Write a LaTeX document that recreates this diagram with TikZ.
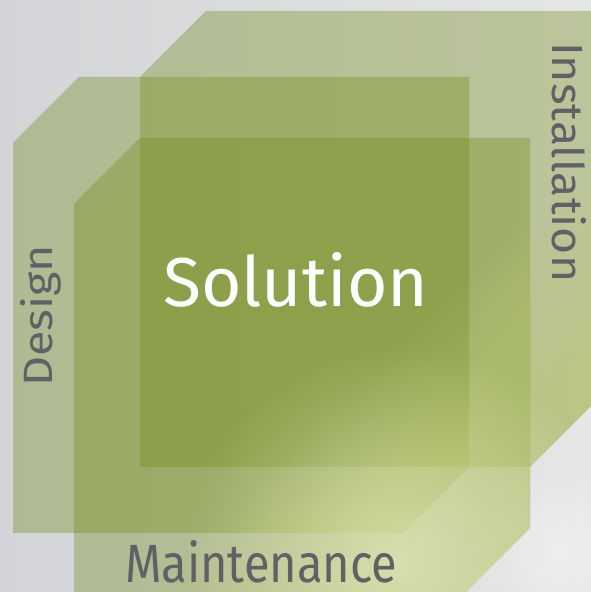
\documentclass[tikz,border=0pt]{standalone}
\usepackage{fontspec}
\setmainfont{Fira Sans}
\usetikzlibrary{fadings}
\definecolor{bgL}{RGB}{210,212,215}
\definecolor{bgR}{RGB}{229,230,230}
\definecolor{leaf}{RGB}{115,140,25}
\definecolor{labelgray}{RGB}{96,97,100}
\definecolor{glowc}{RGB}{242,246,208}
\definecolor{rampc}{RGB}{212,228,125}
\tikzfading[name=glowfade, inner color=transparent!0, outer color=transparent!100]
\tikzset{
  layer/.style={fill=leaf, fill opacity=0.36, draw=none},
  ramp/.style={fill=rampc, fill opacity=0.024, draw=none},
  lbl/.style={text=labelgray, inner sep=0pt, anchor=base west},
  sol/.style={text=white, inner sep=0pt, anchor=base west}
}
\newcommand\cutsquare[2]{(#1,#2) -- ++(0,390) -- ++(66,66) -- ++(390,0) -- ++(0,-390) -- ++(-66,-66) -- cycle}
\begin{document}
\begin{tikzpicture}[x=1pt,y=1pt]
\useasboundingbox (0,0) rectangle (591,592);
\shade[left color=bgL, right color=bgR] (0,0) rectangle (591,592);
% soft light streak on the background, lower right
\begin{scope}
\clip (0,0) rectangle (591,592);
\fill[white, path fading=glowfade, fill opacity=0.35] (560,40) circle (90pt);
\end{scope}
\begin{scope}
\clip (0,0) rectangle (591,592);
\fill[layer] \cutsquare{13}{59};
\fill[layer] \cutsquare{140}{125};
\fill[layer] \cutsquare{74}{-2};
\end{scope}
% light falling from the lower right on the green shapes
\begin{scope}
\clip (0,0) rectangle (591,592);
\clip \cutsquare{13}{59} \cutsquare{140}{125} \cutsquare{74}{-2};
\foreach \c in {150,160,...,340}{
  \fill[ramp] (\c-60,-60) -- (\c+700,700) -- (1500,700) -- (1500,-60) -- cycle;
}
\fill[glowc, path fading=glowfade, fill opacity=0.55] (400,30) circle (220pt);
\end{scope}
\node[sol] (solution) at (163,285) {\resizebox{265pt}{54pt}{Solution}};
\node[lbl] (maint) at (125,9) {\resizebox{272pt}{42pt}{Maintenance}};
\node[lbl, rotate=90] (design) at (53,205) {\resizebox{142pt}{32pt}{Design}};
\node[lbl, rotate=-90] (install) at (552,550) {\resizebox{240pt}{34pt}{Installation}};
\end{tikzpicture}
\end{document}
